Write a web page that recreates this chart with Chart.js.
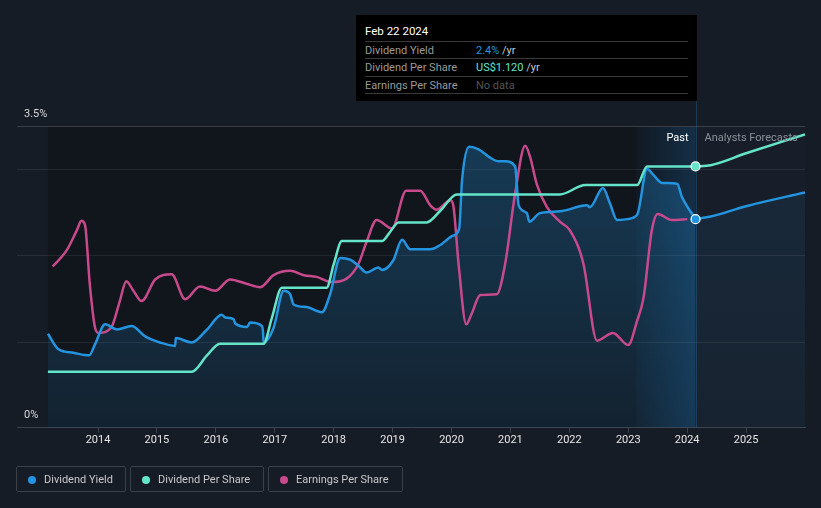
<!DOCTYPE html>
<html>
<head>
<meta charset="utf-8">
<script src="https://cdn.jsdelivr.net/npm/chart.js@4.4.1/dist/chart.umd.min.js"></script>
<style>
body{margin:0;background:#161c26;font-family:Roboto,"Noto Sans",sans-serif;}
#wrap{position:relative;width:821px;height:508px;overflow:hidden;}
#c{position:absolute;left:0;top:0;}
#tip{position:absolute;left:356px;top:15px;width:341px;height:86px;background:#000;font-size:11px;color:#fff;}
#tip .hd{position:absolute;left:9px;top:9px;font-size:11.5px;}
#tip .row{position:absolute;left:9px;width:323px;height:17px;border-top:1px solid #3a3a3a;line-height:17px;color:#9a9a9a;}
#tip .row span.v{position:absolute;left:111px;}
#tip .bot{position:absolute;left:9px;top:78px;width:323px;border-top:1px solid #3a3a3a;}
.legend{position:absolute;top:466px;height:26px;border:1px solid #3a3f48;border-radius:2px;font-size:11px;color:#c8c8c8;line-height:26px;box-sizing:border-box;}
.legend i{position:absolute;left:11px;top:9px;width:8px;height:8px;border-radius:50%;}
.legend span{position:absolute;left:27px;}
</style>
</head>
<body>
<div id="wrap">
<canvas id="c" width="821" height="508"></canvas>
<div id="tip">
  <div class="hd">Feb 22 2024</div>
  <div class="row" style="top:26px">Dividend Yield<span class="v"><b style="font-weight:normal;color:#2394df">2.4%</b> <span style="color:#c8c8c8">/yr</span></span></div>
  <div class="row" style="top:43px">Dividend Per Share<span class="v"><b style="font-weight:normal;color:#64e4c8">US$1.120</b> <span style="color:#c8c8c8">/yr</span></span></div>
  <div class="row" style="top:61px">Earnings Per Share<span class="v" style="color:#555">No data</span></div>
  <div class="bot"></div>
</div>
<div class="legend" style="left:16px;width:110px"><i style="background:#2394df"></i><span>Dividend Yield</span></div>
<div class="legend" style="left:130px;width:134px"><i style="background:#64e4c8"></i><span>Dividend Per Share</span></div>
<div class="legend" style="left:268px;width:135px"><i style="background:#c84a8c"></i><span>Earnings Per Share</span></div>
</div>
<script>
// x values are decimal years
const years = [2014,2015,2016,2017,2018,2019,2020,2021,2022,2023,2024,2025];
const today = 2024.142;        // Feb 22 2024
const lastYearStart = 2023.13;

// dividend yield, %
const dyDates = [2013.15,2013.33,2013.58,2013.85,2013.95,2014.12,2014.32,2014.57,2014.80,2015.05,2015.31,2015.32,2015.59,2015.85,2016.10,2016.16,2016.30,2016.33,2016.53,2016.58,2016.78,2016.80,2016.81,2016.98,2017.15,2017.26,2017.32,2017.54,2017.80,2017.94,2018.11,2018.28,2018.42,2018.56,2018.76,2018.82,2019.01,2019.16,2019.30,2019.64,2019.81,2020.03,2020.13,2020.18,2020.30,2020.46,2020.66,2020.80,2020.91,2021.08,2021.14,2021.28,2021.32,2021.50,2021.84,2022.30,2022.35,2022.57,2022.69,2022.81,2022.98,2023.15,2023.32,2023.43,2023.57,2023.83,2023.91,2024.142];
const dyValues = [1.09,0.91,0.87,0.84,0.97,1.20,1.14,1.18,1.06,0.99,0.95,1.04,0.99,1.14,1.31,1.28,1.26,1.21,1.17,1.22,1.18,1.12,0.99,1.16,1.59,1.55,1.43,1.40,1.34,1.55,1.97,1.95,1.88,1.80,1.86,1.83,1.94,2.18,2.07,2.07,2.12,2.23,2.31,2.88,3.26,3.23,3.13,3.09,3.09,3.03,2.58,2.49,2.39,2.49,2.51,2.58,2.56,2.78,2.60,2.41,2.42,2.47,3.00,2.93,2.84,2.83,2.68,2.42];
const dyForecastDates = [2024.142,2024.40,2025.0,2026.0];
const dyForecastValues = [2.42,2.45,2.57,2.73];

// dividend per share, US$
const dpsDates = [2013.15,2015.59,2015.85,2016.07,2016.81,2016.95,2017.12,2017.88,2018.0,2018.14,2018.82,2018.96,2019.10,2019.58,2019.81,2020.09,2021.84,2022.27,2023.15,2023.32,2024.142];
const dpsValues = [0.24,0.24,0.31,0.36,0.36,0.47,0.60,0.60,0.70,0.80,0.80,0.84,0.88,0.88,0.93,1.00,1.00,1.04,1.04,1.12,1.12];
const dpsForecastDates = [2024.142,2024.40,2025.0,2026.0];
const dpsForecastValues = [1.12,1.125,1.176,1.257];

// earnings per share (relative)
const epsDates = [2013.23,2013.47,2013.64,2013.72,2013.78,2013.86,2013.95,2014.01,2014.23,2014.37,2014.48,2014.60,2014.74,2014.97,2015.25,2015.48,2015.73,2015.99,2016.24,2016.52,2016.75,2016.98,2017.26,2017.49,2017.71,2017.97,2018.22,2018.42,2018.56,2018.73,2018.99,2019.23,2019.47,2019.64,2019.75,2019.98,2020.03,2020.12,2020.25,2020.34,2020.49,2020.77,2020.91,2021.08,2021.25,2021.33,2021.45,2021.62,2021.84,2022.01,2022.24,2022.47,2022.74,2023.00,2023.15,2023.26,2023.40,2023.50,2023.74,2024.00];
const epsValues = [1.87,2.06,2.29,2.40,2.35,1.67,1.16,1.10,1.17,1.47,1.70,1.59,1.47,1.72,1.78,1.49,1.64,1.59,1.72,1.67,1.63,1.77,1.82,1.77,1.75,1.69,1.73,1.90,2.16,2.41,2.31,2.75,2.75,2.58,2.53,2.64,2.58,1.90,1.20,1.32,1.54,1.55,1.90,2.72,3.27,3.15,2.82,2.56,2.39,2.29,1.90,1.01,1.10,0.96,1.24,1.51,2.29,2.48,2.41,2.42];

const BLUE = '#2394df', TEAL = '#64e4c8', PINK = '#c84a8c';

function pts(xs, ys){ return xs.map((v,i)=>({x:v, y:ys[i]})); }

function fillGrad(alphaTop, alphaBot){
  return function(ctx){
    const a = ctx.chart.chartArea;
    if(!a) return 'rgba(35,148,223,0.2)';
    const g = ctx.chart.ctx.createLinearGradient(0, a.top, 0, a.bottom);
    g.addColorStop(0, 'rgba(35,148,223,'+alphaTop+')');
    g.addColorStop(1, 'rgba(35,148,223,'+alphaBot+')');
    return g;
  };
}

function lastDot(n){ return c => c.dataIndex === n-1 ? 4.5 : 0; }

const bgPlugin = {
  id:'bg',
  beforeDraw(chart){
    const {ctx, chartArea:a, scales:{x}} = chart;
    const x0 = x.getPixelForValue(dyDates[0]);
    const xn = x.getPixelForValue(today);
    const xh = x.getPixelForValue(lastYearStart);
    ctx.save();
    ctx.fillStyle = '#11151c';
    ctx.fillRect(x0, a.top, xn-x0, a.bottom-a.top);
    ctx.fillStyle = '#171e29';
    ctx.fillRect(xn, a.top, a.right-xn, a.bottom-a.top);
    const g = ctx.createLinearGradient(xh,0,xn,0);
    g.addColorStop(0,'rgba(33,150,243,0.03)');
    g.addColorStop(1,'rgba(33,150,243,0.2)');
    ctx.fillStyle = g;
    ctx.fillRect(xh, a.top, xn-xh, a.bottom-a.top);
    const y = chart.scales.y;
    [1,2,3,3.5].forEach(v=>{
      const py = Math.round(y.getPixelForValue(v))+0.5;
      ctx.strokeStyle = v===3.5 ? '#393e47' : 'rgba(255,255,255,0.08)';
      ctx.lineWidth = 1;
      ctx.beginPath(); ctx.moveTo(a.left, py); ctx.lineTo(a.right, py); ctx.stroke();
    });
    ctx.restore();
  },
  beforeDatasetsDraw(chart){
    const {ctx, chartArea:a, scales:{x}} = chart;
    const xn = Math.round(x.getPixelForValue(today))+0.5;
    ctx.save();
    ctx.strokeStyle = 'rgba(40,130,200,0.3)';
    ctx.beginPath(); ctx.moveTo(xn, 101); ctx.lineTo(xn, a.bottom); ctx.stroke();
    ctx.restore();
  },
  afterDraw(chart){
    const {ctx, chartArea:a, scales:{x,y}} = chart;
    const xn = x.getPixelForValue(today);
    ctx.save();
    ctx.font = '11px Roboto';
    ctx.textBaseline = 'middle';
    ctx.fillStyle = '#d8d8d8';
    ctx.textAlign = 'left';
    ctx.fillText('3.5%', 24, y.getPixelForValue(3.5)-12);
    ctx.fillText('0%', 24, y.getPixelForValue(0)-13);
    ctx.fillStyle = '#ffffff';
    ctx.textAlign = 'right';
    ctx.fillText('Past', xn-7, 138);
    ctx.fillStyle = '#8b9099';
    ctx.textAlign = 'left';
    ctx.fillText('Analysts Forecasts', xn+9, 138);
    ctx.restore();
  }
};

new Chart(document.getElementById('c'), {
  type:'line',
  data:{
    datasets:[
      {data:pts(dyDates,dyValues), yAxisID:'y', borderColor:BLUE, borderWidth:2.5, fill:'origin', backgroundColor:fillGrad(0.3,0.1),
       pointRadius:lastDot(dyDates.length), pointBackgroundColor:BLUE, pointBorderColor:'#fff', pointBorderWidth:1.2, order:1},
      {data:pts(dyForecastDates,dyForecastValues), yAxisID:'y', borderColor:BLUE, borderWidth:2.5, fill:'origin', backgroundColor:fillGrad(0.1,0.04), pointRadius:0, order:2},
      {data:pts(dpsDates,dpsValues), yAxisID:'yd', borderColor:TEAL, borderWidth:2.5, fill:false,
       pointRadius:lastDot(dpsDates.length), pointBackgroundColor:TEAL, pointBorderColor:'#fff', pointBorderWidth:1.2, order:0},
      {data:pts(dpsForecastDates,dpsForecastValues), yAxisID:'yd', borderColor:TEAL, borderWidth:2.5, fill:false, pointRadius:0, order:3},
      {data:pts(epsDates,epsValues), yAxisID:'ye', borderColor:PINK, borderWidth:2.5, fill:false, pointRadius:0, order:4}
    ]
  },
  options:{
    responsive:false,
    animation:false,
    devicePixelRatio:1,
    layout:{padding:{left:17, right:16, top:126, bottom:60}},
    elements:{line:{cubicInterpolationMode:'monotone'}},
    plugins:{legend:{display:false}, tooltip:{enabled:false}, filler:{drawTime:'beforeDatasetsDraw'}},
    scales:{
      x:{type:'linear', min:2012.625, max:2026.0,
         afterBuildTicks: s => { s.ticks = years.map(v=>({value:v})); },
         ticks:{color:'#e6e6e6', font:{family:'Roboto', size:11}, padding:1, callback:v=>String(v), maxRotation:0, autoSkip:false},
         grid:{drawOnChartArea:false, color:'#3d434c', tickLength:5},
         border:{color:'#3d434c'}},
      y:{display:false, min:0, max:3.5},
      yd:{display:false, min:0, max:1.293},
      ye:{display:false, min:0, max:3.5}
    }
  },
  plugins:[bgPlugin]
});
</script>
</body>
</html>
